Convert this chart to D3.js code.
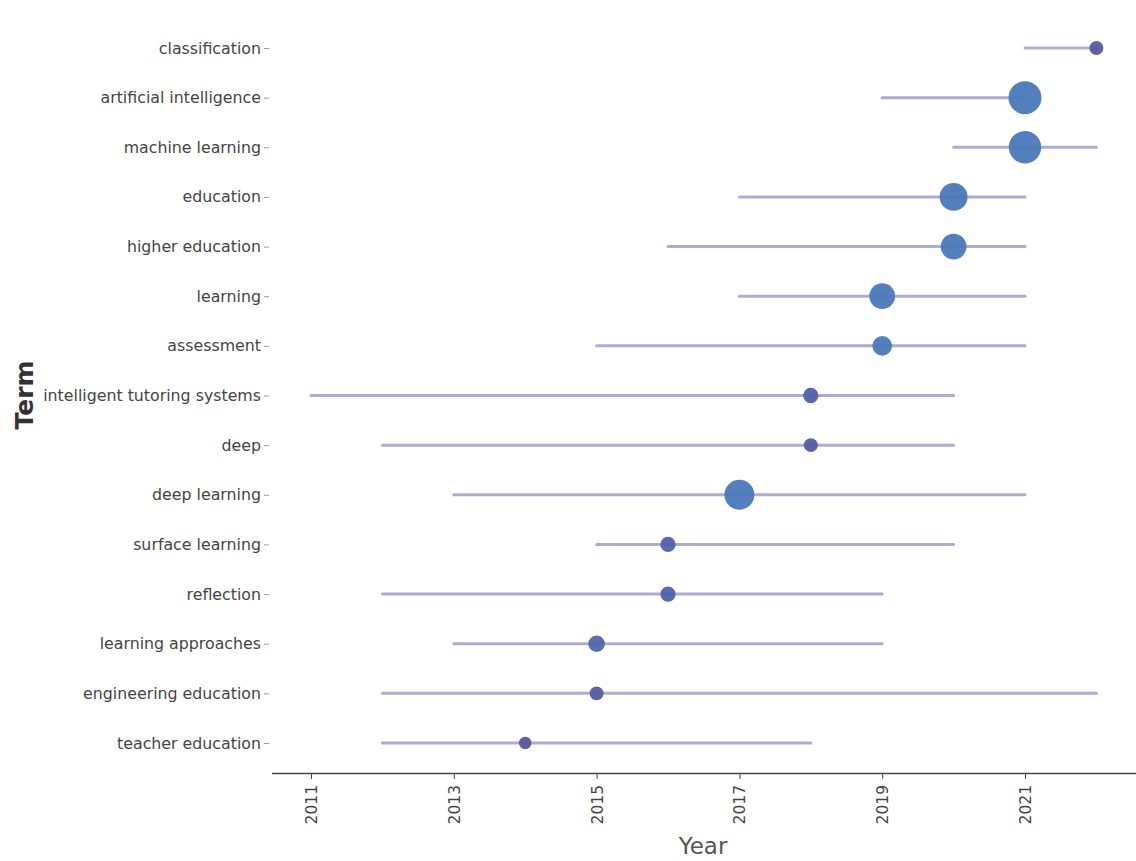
<!DOCTYPE html>
<html>
<head>
<meta charset="utf-8">
<script src="https://cdn.jsdelivr.net/npm/d3@7"></script>
<style>
  html, body { margin: 0; padding: 0; background: #fff; }
  svg { display: block; }
</style>
</head>
<body>
<svg id="chart" width="1136" height="861"></svg>
<script>
// Data
const terms = ["classification", "artificial intelligence", "machine learning", "education",
  "higher education", "learning", "assessment", "intelligent tutoring systems", "deep",
  "deep learning", "surface learning", "reflection", "learning approaches",
  "engineering education", "teacher education"];
const yearStart = [2021, 2019, 2020, 2017, 2016, 2017, 2015, 2011, 2012, 2013, 2015, 2012, 2013, 2012, 2012];
const yearEnd   = [2022, 2021, 2022, 2021, 2021, 2021, 2021, 2020, 2020, 2021, 2020, 2019, 2019, 2022, 2018];
const yearMedian= [2022, 2021, 2021, 2020, 2020, 2019, 2019, 2018, 2018, 2017, 2016, 2016, 2015, 2015, 2014];
const freq      = [5, 28, 27, 20, 17, 17, 10, 6, 5, 23, 6, 6, 7, 5, 4];
const xTicks = [2011, 2013, 2015, 2017, 2019, 2021];

const rows = terms.map((t, i) => ({term: t, start: yearStart[i], end: yearEnd[i], med: yearMedian[i], freq: freq[i]}));

const svg = d3.select("#chart");
const x = d3.scaleLinear().domain([2011, 2021]).range([311, 1025]);
const y = d3.scalePoint().domain(terms).range([48, 743]);
const r = d3.scaleSqrt().domain([0, 28]).range([0, 16.5]);
const col = d3.scaleLinear().domain([4, 10]).range(["#55569a", "#4a78b8"]).clamp(true);

const font = "DejaVu Sans, Verdana, sans-serif";

// segments
svg.append("g").selectAll("line").data(rows).join("line")
  .attr("x1", d => x(d.start)).attr("x2", d => x(d.end))
  .attr("y1", d => y(d.term)).attr("y2", d => y(d.term))
  .attr("stroke", "#a2a2d2").attr("stroke-opacity", 0.9)
  .attr("stroke-width", 3).attr("stroke-linecap", "round");

// points
svg.append("g").selectAll("circle").data(rows).join("circle")
  .attr("cx", d => x(d.med)).attr("cy", d => y(d.term))
  .attr("r", d => r(d.freq))
  .attr("fill", d => col(d.freq)).attr("fill-opacity", 0.95);

// y axis (labels + small ticks, no domain line)
const yAxis = svg.append("g").attr("transform", "translate(269,0)")
  .call(d3.axisLeft(y).tickSize(5).tickPadding(3));
yAxis.select(".domain").remove();
yAxis.selectAll(".tick line").attr("stroke", "#999");
yAxis.selectAll("text").attr("font-family", font).attr("font-size", 15.8).attr("fill", "#444");

// x axis
const xAxis = svg.append("g").attr("transform", "translate(0,773)")
  .call(d3.axisBottom(x).tickValues(xTicks).tickFormat(d3.format("d")).tickSize(6).tickSizeOuter(0));
xAxis.select(".domain").attr("d", "M272,0.5H1136").attr("stroke", "#444").attr("stroke-width", 1.3);
xAxis.selectAll(".tick line").attr("stroke", "#444");
xAxis.selectAll("text")
  .attr("font-family", font).attr("font-size", 15.5).attr("fill", "#444")
  .attr("transform", "rotate(-90)")
  .attr("x", -12).attr("y", 0).attr("dy", "0.35em")
  .attr("text-anchor", "end");

// axis titles
svg.append("text").attr("x", 703).attr("y", 854)
  .attr("text-anchor", "middle").attr("font-family", font).attr("font-size", 23)
  .attr("fill", "#555").text("Year");
svg.append("text").attr("transform", "translate(33,395) rotate(-90)")
  .attr("text-anchor", "middle").attr("font-family", font).attr("font-size", 25)
  .attr("font-weight", "bold").attr("fill", "#333").text("Term");
</script>
</body>
</html>
